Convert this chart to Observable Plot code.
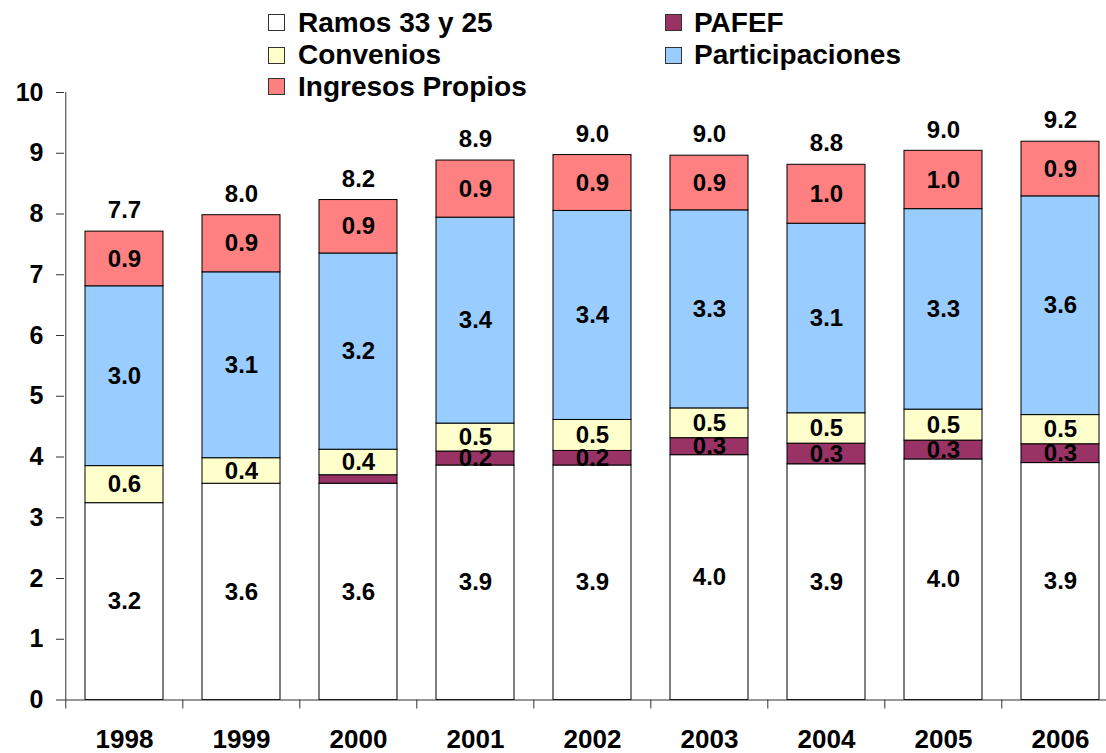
<!DOCTYPE html>
<html>
<head>
<meta charset="utf-8">
<script src="https://cdn.jsdelivr.net/npm/d3@7"></script>
<script src="https://cdn.jsdelivr.net/npm/@observablehq/plot@0.6"></script>
<style>
  html, body { margin: 0; padding: 0; background: #fff; }
  #wrap { position: relative; width: 1106px; height: 753px; font-family: "Liberation Sans", Arial, sans-serif; }
  .leg { position: absolute; height: 28px; line-height: 28px; font-size: 28px; font-weight: bold; color: #000; white-space: nowrap; }
  .sw { position: absolute; width: 17px; height: 17px; border: 1px solid #333; box-sizing: border-box; }
</style>
</head>
<body>
<div id="wrap"></div>
<script>
const years = ["1998", "1999", "2000", "2001", "2002", "2003", "2004", "2005", "2006"];
const seriesNames = ["Ramos 33 y 25", "PAFEF", "Convenios", "Participaciones", "Ingresos Propios"];
const seriesColors = ["#FFFFFF", "#993366", "#FFFFCC", "#99CCFF", "#FF8080"];

const ramos = [3.24, 3.56, 3.56, 3.86, 3.86, 4.03, 3.88, 3.96, 3.90];
const pafef = [0, 0, 0.14, 0.23, 0.24, 0.28, 0.34, 0.31, 0.31];
const convenios = [0.61, 0.42, 0.42, 0.46, 0.51, 0.49, 0.50, 0.51, 0.48];
const participaciones = [2.96, 3.06, 3.23, 3.39, 3.44, 3.26, 3.12, 3.30, 3.60];
const ingresos = [0.90, 0.94, 0.88, 0.94, 0.92, 0.90, 0.97, 0.96, 0.90];
const yTicks = [0, 1, 2, 3, 4, 5, 6, 7, 8, 9, 10];

const columns = [ramos, pafef, convenios, participaciones, ingresos];
const data = years.flatMap((yr, i) => seriesNames.map((s, j) => ({year: yr, series: s, value: columns[j][i]})));
const totals = years.map((yr, i) => ({year: yr, total: d3.sum(columns, c => c[i])}));

const halfStep = 58.7;

const chart = Plot.plot({
  width: 1106,
  height: 753,
  marginLeft: 64,
  marginRight: 0,
  marginTop: 92,
  marginBottom: 53.5,
  style: {fontFamily: "Liberation Sans, Arial, sans-serif", fontWeight: "bold", background: "#fff", color: "#000"},
  x: {domain: years, range: [64, 1120.6], paddingInner: 0.33, paddingOuter: 0.165, align: 0.5, label: null},
  y: {domain: [0, 10], label: null},
  color: {domain: seriesNames, range: seriesColors},
  marks: [
    Plot.barY(data.filter(d => d.value > 0), {x: "year", y: "value", fill: "series", stroke: "#000", strokeWidth: 1}),
    Plot.text(data, Plot.stackY({x: "year", y: "value", text: d => d.value >= 0.15 ? d.value.toFixed(1) : null, fill: "#000", fontSize: 24, fontWeight: "bold"})),
    Plot.text(totals, {x: "year", y: "total", text: d => d.total.toFixed(1), dy: -21, fill: "#000", fontSize: 24, fontWeight: "bold"}),
    Plot.ruleY([0], {stroke: "#333"}),
    Plot.ruleX([years[0]], {x: d => d, dx: -halfStep, y1: 0, y2: 10, stroke: "#333"}),
    Plot.ruleX(years, {x: d => d, dx: -halfStep, y1: 0, y2: 0, insetBottom: -9, stroke: "#333"}),
    Plot.axisY({ticks: yTicks, tickSize: 8, tickPadding: 13, fontSize: 25, fontWeight: "bold", tickFormat: d3.format("d"), stroke: "#333", label: null}),
    Plot.axisX({tickSize: 0, tickPadding: 30, fontSize: 26, fontWeight: "bold", label: null})
  ]
});

const wrap = document.getElementById("wrap");
wrap.appendChild(chart);

const legendPos = [
  {sx: 268, tx: 298, cy: 22.5},
  {sx: 665, tx: 694, cy: 22.5},
  {sx: 268, tx: 298, cy: 55},
  {sx: 665, tx: 694, cy: 55},
  {sx: 268, tx: 298, cy: 86.5}
];
seriesNames.forEach((name, k) => {
  const p = legendPos[k];
  const sw = document.createElement("div");
  sw.className = "sw";
  sw.style.left = p.sx + "px";
  sw.style.top = (p.cy - 8.5) + "px";
  sw.style.background = seriesColors[k];
  wrap.appendChild(sw);
  const t = document.createElement("div");
  t.className = "leg";
  t.style.left = p.tx + "px";
  t.style.top = (p.cy - 13.7) + "px";
  t.textContent = name;
  wrap.appendChild(t);
});
</script>
</body>
</html>
